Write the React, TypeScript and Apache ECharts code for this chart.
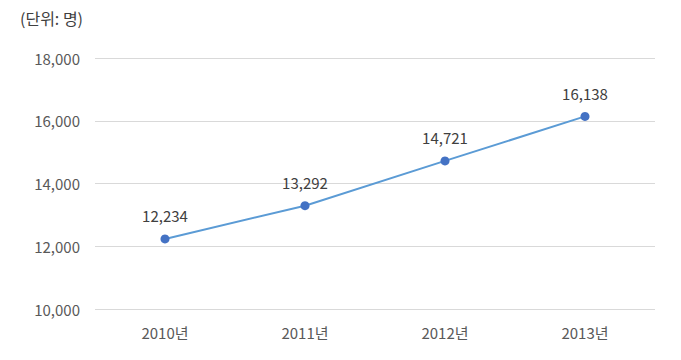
import React, { useEffect, useRef } from "react";
import * as echarts from "echarts";

const categories = ["2010년", "2011년", "2012년", "2013년"];
const values = [12234, 13292, 14721, 16138];
const unitLabel = "(단위: 명)";
const yMin = 10000;
const yMax = 18000;
const yInterval = 2000;

const FONT = "'Noto Sans CJK KR', 'Noto Sans', sans-serif";

export default function App() {
  const ref = useRef<HTMLDivElement>(null);
  useEffect(() => {
    if (!ref.current) return;
    const chart = echarts.init(ref.current, null, { renderer: "svg" });
    chart.setOption({
      animation: false,
      backgroundColor: "#ffffff",
      textStyle: { fontFamily: FONT },
      graphic: [
        {
          type: "text",
          left: 20,
          top: 10,
          style: { text: unitLabel, fontSize: 16, fill: "#404040", fontFamily: FONT },
        },
      ],
      grid: { left: 95, right: 26, top: 58, bottom: 51, containLabel: false },
      xAxis: {
        type: "category",
        data: categories,
        boundaryGap: true,
        axisLine: { show: false },
        axisTick: { show: false },
        axisLabel: { color: "#595959", fontSize: 15, margin: 16, fontFamily: FONT },
      },
      yAxis: {
        type: "value",
        min: yMin,
        max: yMax,
        interval: yInterval,
        axisLine: { show: false },
        axisTick: { show: false },
        splitLine: { lineStyle: { color: "#d9d9d9", width: 1 } },
        axisLabel: {
          color: "#595959",
          fontSize: 15,
          margin: 15,
          fontFamily: FONT,
          formatter: (v: number) => v.toLocaleString("en-US"),
        },
      },
      series: [
        {
          type: "line",
          data: values,
          symbol: "circle",
          symbolSize: 9,
          lineStyle: { color: "#5b9bd5", width: 2 },
          itemStyle: { color: "#4472c4" },
          label: {
            show: true,
            position: "top",
            distance: 11,
            color: "#404040",
            fontSize: 15,
            fontFamily: FONT,
            formatter: (p: any) => Number(p.value).toLocaleString("en-US"),
          },
        },
      ],
    });
    return () => chart.dispose();
  }, []);
  return (
    <div
      ref={ref}
      style={{ position: "fixed", left: 0, top: 0, width: 681, height: 360 }}
    />
  );
}
